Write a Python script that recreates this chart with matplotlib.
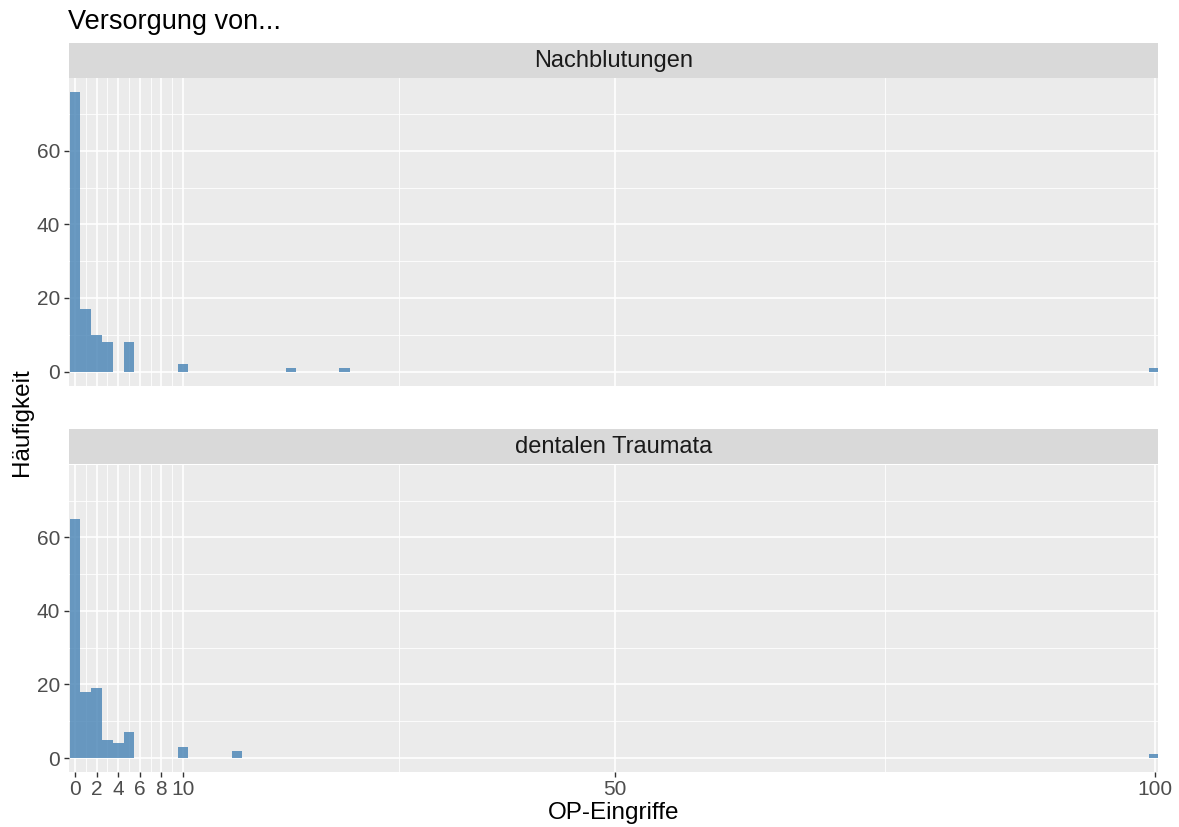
import matplotlib
matplotlib.use("Agg")
import matplotlib.pyplot as plt
import numpy as np

plt.rcParams['font.family'] = ['Liberation Sans', 'DejaVu Sans']

# Data (histogram counts, binwidth 1, centered on integers)
panels = ["Nachblutungen", "dentalen Traumata"]
nach_x = [0, 1, 2, 3, 5, 10, 20, 25, 100]
nach_n = [76, 17, 10, 8, 8, 2, 1, 1, 1]
trau_x = [0, 1, 2, 3, 4, 5, 10, 15, 100]
trau_n = [65, 18, 19, 5, 4, 7, 3, 2, 1]
x_breaks = [0, 2, 4, 6, 8, 10, 50, 100]
x_minor = [1, 3, 5, 7, 9, 30, 75]
y_breaks = [0, 20, 40, 60]
y_minor = [10, 30, 50, 70]

W, H = 1179, 827
fig = plt.figure(figsize=(W / 100, H / 100), dpi=100)
fig.patch.set_facecolor("white")

fill = "#4682B4"
left, right = 69, 1158
panel_boxes = [(78, 385.5, 43), (464.5, 772, 429)]
series = [(nach_x, nach_n), (trau_x, trau_n)]

ymax = max(max(nach_n), max(trau_n))
ylim = (-0.05 * ymax, ymax * 1.05)

for i, ((top, bot, stop), (xs, ns)) in enumerate(zip(panel_boxes, series)):
    ax = fig.add_axes([left / W, 1 - bot / H, (right - left) / W, (bot - top) / H])
    ax.set_facecolor("#EBEBEB")
    for s in ax.spines.values():
        s.set_visible(False)
    ax.set_xlim(-0.55, 100.3)
    ax.set_ylim(*ylim)
    for v in x_minor:
        ax.axvline(v, color="white", lw=0.6, zorder=0.5)
    for v in y_minor:
        ax.axhline(v, color="white", lw=0.6, zorder=0.5)
    for v in x_breaks:
        ax.axvline(v, color="white", lw=1.2, zorder=0.6)
    for v in y_breaks:
        ax.axhline(v, color="white", lw=1.2, zorder=0.6)
    ax.bar(xs, ns, width=1.0, color=fill, alpha=0.8, edgecolor="none", zorder=2)
    ax.set_yticks(y_breaks)
    ax.set_yticklabels([str(v) for v in y_breaks], fontsize=15, color="#4D4D4D")
    ax.tick_params(axis="y", length=3.5, width=1, color="#333333", pad=3)
    if i == 1:
        ax.set_xticks(x_breaks)
        ax.set_xticklabels([str(v) for v in x_breaks], fontsize=15, color="#4D4D4D")
        ax.tick_params(axis="x", length=3.5, width=1, color="#333333", pad=2)
    else:
        ax.set_xticks([])
    # strip
    sax = fig.add_axes([left / W, 1 - top / H, (right - left) / W, (top - stop) / H])
    sax.set_facecolor("#D9D9D9")
    sax.set_xticks([]); sax.set_yticks([])
    for s in sax.spines.values():
        s.set_visible(False)
    sax.text(0.5, 0.5, panels[i], ha="center", va="center", fontsize=17,
             color="#1A1A1A", transform=sax.transAxes)

fig.text(68 / W, 1 - 22 / H, "Versorgung von...", fontsize=19.5, color="black",
         ha="left", va="center")
fig.text((left + right) / 2 / W, 1 - 813 / H, "OP-Eingriffe", fontsize=17.5,
         ha="center", va="center")
fig.text(22 / W, 1 - 422 / H, "Häufigkeit", fontsize=17.5, rotation=90,
         ha="center", va="center")

fig.savefig("out.png", dpi=100)
